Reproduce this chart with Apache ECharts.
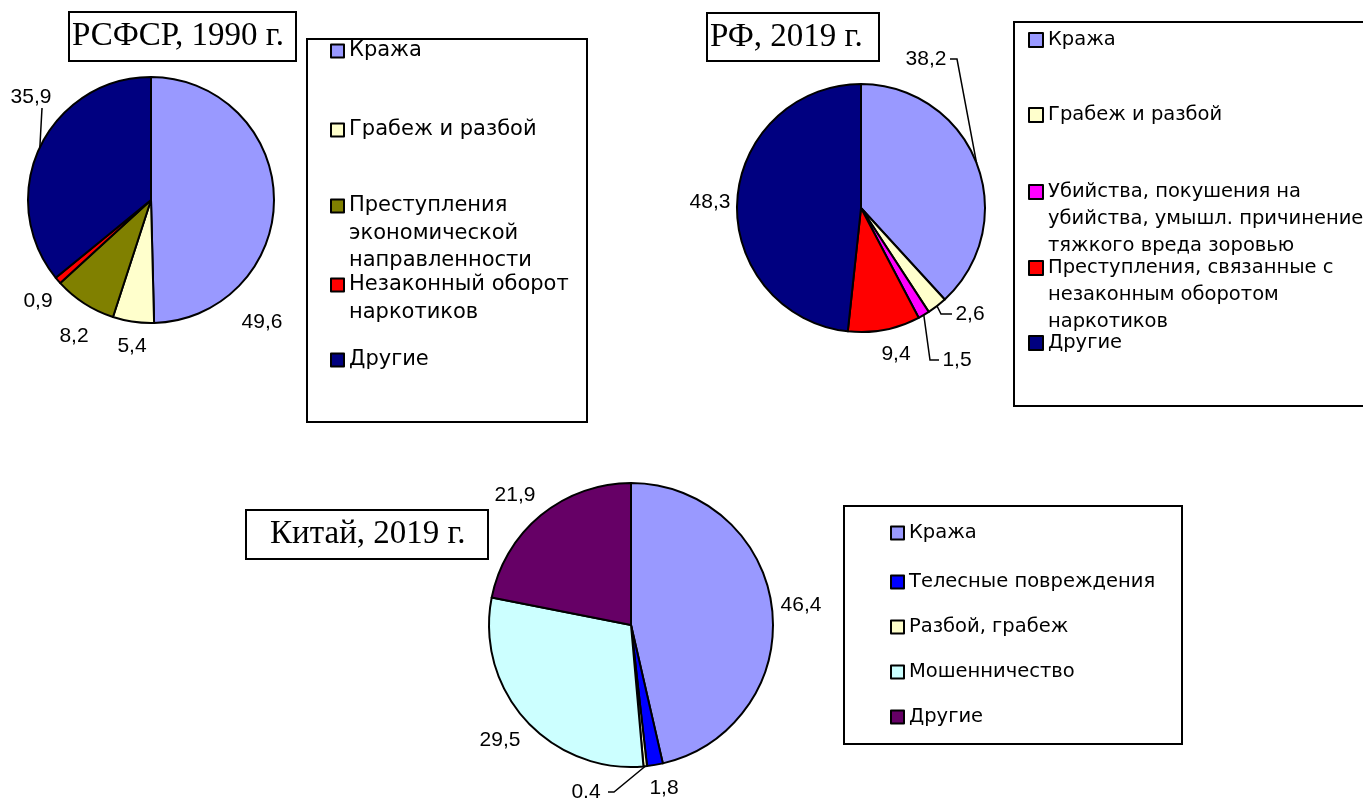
<!DOCTYPE html>
<html>
<head>
<meta charset="utf-8">
<script src="https://cdn.jsdelivr.net/npm/echarts@6/dist/echarts.min.js"></script>
<style>
  html, body { margin: 0; padding: 0; background: #fff; }
  #chart { width: 1363px; height: 798px; }
</style>
</head>
<body>
<div id="chart"></div>
<script>
// РСФСР, 1990 г.
const names1990 = ['Кража', 'Грабеж и разбой', 'Преступления\nэкономической\nнаправленности', 'Незаконный оборот\nнаркотиков', 'Другие'];
const values1990 = [49.6, 5.4, 8.2, 0.9, 35.9];
const colors1990 = ['#9999ff', '#ffffcc', '#808000', '#ff0000', '#000080'];

// РФ, 2019 г.
const namesRf = ['Кража', 'Грабеж и разбой', 'Убийства, покушения на\nубийства, умышл. причинение\nтяжкого вреда зоровью', 'Преступления, связанные с\nнезаконным оборотом\nнаркотиков', 'Другие'];
const valuesRf = [38.2, 2.6, 1.5, 9.4, 48.3];
const colorsRf = ['#9999ff', '#ffffcc', '#ff00ff', '#ff0000', '#000080'];

// Китай, 2019 г.
const namesCn = ['Кража', 'Телесные повреждения', 'Разбой, грабеж', 'Мошенничество', 'Другие'];
const valuesCn = [46.4, 1.8, 0.4, 29.5, 21.9];
const colorsCn = ['#9999ff', '#0000ff', '#ffffcc', '#ccffff', '#660066'];

// layout of the three panels (label offsets are relative to the pie centre)
const panels = [
  {
    title: 'РСФСР, 1990 г.', titleX: 72, titleBox: [69, 12, 227, 49],
    names: names1990, values: values1990, colors: colors1990,
    center: [151, 200], radius: 123,
    labelPos: [[111, 122], [-19, 146], [-77, 136], [-113, 101], [-120, -103]],
    labelLines: [null, null, null, null, [[-109, -92], [-109, -90]]],
    legendBox: [307, 39, 280, 383], legendX: 330, legendY: [51, 130, 206, 285, 360],
    lineH: 27.5, fontSize: 21, icon: 13
  },
  {
    title: 'РФ, 2019 г.', titleX: 710, titleBox: [707, 13, 172, 48],
    names: namesRf, values: valuesRf, colors: colorsRf,
    center: [861, 208], radius: 124,
    labelPos: [[65, -149], [109, 106], [96, 152], [35, 146], [-151, -6]],
    labelLines: [[[96, -149], [89, -149]], [[80, 106], [91, 106]], [[69, 152], [78, 152]], null, null],
    legendBox: [1014, 22, 360, 384], legendX: 1028, legendY: [40, 115, 192, 268, 343],
    lineH: 27, fontSize: 19.5, icon: 14
  },
  {
    title: 'Китай, 2019 г.', titleX: 270, titleBox: [246, 510, 242, 49],
    names: namesCn, values: valuesCn, colors: colorsCn,
    center: [631, 625], radius: 142,
    labelPos: [[170, -20], [33, 163], [-45, 167], [-131, 115], [-116, -130]],
    labelLines: [null, null, [[-17, 167], [-23, 167]], null, null],
    legendBox: [844, 506, 338, 238], legendX: 890, legendY: [533, 582, 627, 672, 717],
    lineH: 24, fontSize: 19.5, icon: 13
  }
];

function edgePoint(p, i) {
  // point on the rim at the middle of slice i
  const total = p.values.reduce((a, b) => a + b, 0);
  let cum = 0;
  for (let k = 0; k < i; k++) cum += p.values[k];
  const a = 2 * Math.PI * (cum + p.values[i] / 2) / total;
  return [p.center[0] + p.radius * Math.sin(a), p.center[1] - p.radius * Math.cos(a)];
}

const titles = [];
const series = [];
const legends = [];
const graphics = [];

panels.forEach(p => {
  titles.push({
    text: p.title,
    left: p.titleX,
    top: p.titleBox[1] + p.titleBox[3] / 2 - 18,
    padding: 0,
    textStyle: { fontFamily: 'Liberation Serif', fontSize: 33, fontWeight: 'normal', color: '#000', lineHeight: 36 }
  });

  [p.titleBox, p.legendBox].forEach(b => {
    graphics.push({
      type: 'rect', silent: true,
      shape: { x: b[0], y: b[1], width: b[2], height: b[3] },
      style: { fill: 'none', stroke: '#000', lineWidth: 2 }
    });
  });

  series.push({
    type: 'pie',
    center: p.center,
    radius: p.radius,
    startAngle: 90,
    clockwise: true,
    avoidLabelOverlap: false,
    emphasis: { disabled: true },
    itemStyle: { borderColor: '#000', borderWidth: 2 },
    label: {
      show: true,
      position: 'outside',
      color: '#000',
      fontFamily: 'Liberation Sans',
      fontSize: 21,
      formatter: d => String(d.value).replace('.', ',')
    },
    labelLine: { show: false, length: 5, length2: 5, lineStyle: { color: '#000', width: 1.5 } },
    labelLayout: params => {
      const i = params.dataIndex;
      const out = {
        x: p.center[0] + p.labelPos[i][0],
        y: p.center[1] + p.labelPos[i][1],
        align: 'center',
        verticalAlign: 'middle'
      };
      if (p.labelLines[i]) {
        const start = (params.labelLinePoints && params.labelLinePoints[0]) || edgePoint(p, i);
        out.labelLinePoints = [start].concat(p.labelLines[i].map(q => [p.center[0] + q[0], p.center[1] + q[1]]));
      }
      return out;
    },
    data: p.names.map((name, i) => ({
      name: name,
      value: p.values[i],
      itemStyle: { color: p.colors[i] },
      labelLine: { show: !!p.labelLines[i] }
    }))
  });

  p.names.forEach((name, i) => {
    const n = name.split('\n').length;
    legends.push({
      left: p.legendX,
      top: p.legendY[i] - (n - 0.5) * p.lineH,
      orient: 'vertical',
      padding: 0,
      selectedMode: false,
      icon: 'rect',
      itemWidth: p.icon,
      itemHeight: p.icon,
      // empty lines on top keep the first line of a long name next to its icon
      formatter: nm => '\n'.repeat(n - 1) + nm,
      data: [{ name: name, itemStyle: { color: p.colors[i], borderColor: '#000', borderWidth: 2 } }],
      textStyle: {
        fontFamily: 'DejaVu Sans',
        fontSize: p.fontSize,
        color: '#000',
        lineHeight: p.lineH
      }
    });
  });
});

const myChart = echarts.init(document.getElementById('chart'));
myChart.setOption({
  backgroundColor: '#fff',
  animation: false,
  title: titles,
  legend: legends,
  graphic: graphics,
  series: series
});
</script>
</body>
</html>
